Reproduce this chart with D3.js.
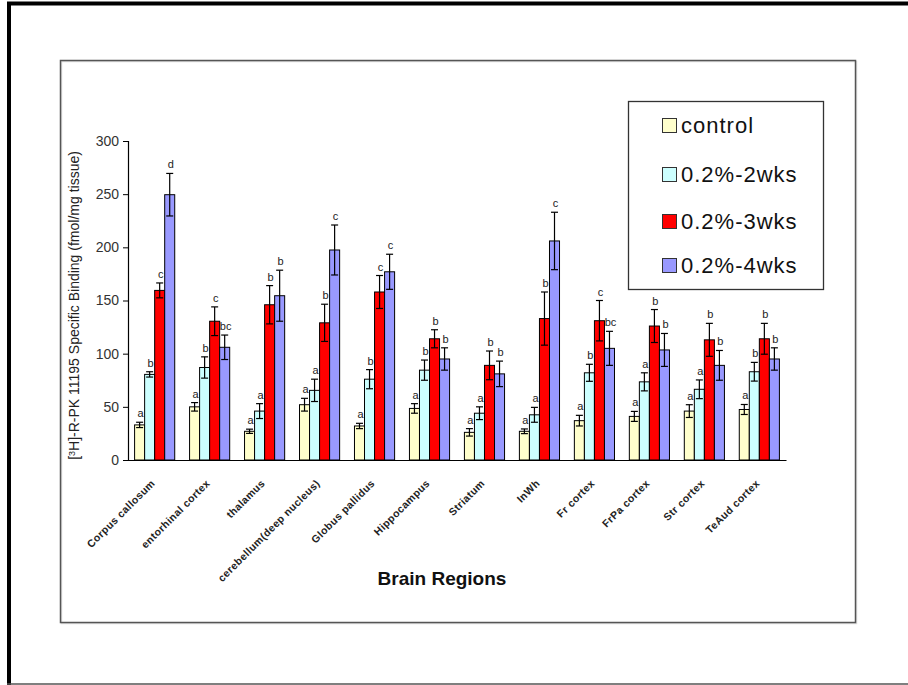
<!DOCTYPE html>
<html>
<head>
<meta charset="utf-8">
<script src="https://cdn.jsdelivr.net/npm/d3@7/dist/d3.min.js"></script>
<style>
  html, body { margin: 0; padding: 0; background: #fff; }
  svg { display: block; }
</style>
</head>
<body>
<svg id="chart" width="908" height="685"></svg>
<script>
const categories = ["Corpus callosum", "entorhinal cortex", "thalamus", "cerebellum(deep nucleus)",
  "Globus pallidus", "Hippocampus", "Striatum", "InWh", "Fr cortex", "FrPa cortex", "Str cortex", "TeAud cortex"];
const seriesNames = ["control", "0.2%-2wks", "0.2%-3wks", "0.2%-4wks"];
const seriesColors = ["#FFFFCC", "#CCFFFF", "#FF0000", "#9999FF"];

const controlValues = [33, 50, 27, 52, 32, 48.5, 26, 27, 37, 41, 46, 47.5];
const controlErrors = [2.5, 4, 2, 6, 2.5, 4.5, 3.5, 2.2, 5, 4.7, 6, 4.7];
const controlLetters = ["a", "a", "a", "a", "a", "a", "a", "a", "a", "a", "a", "a"];

const wk2Values = [80.5, 87, 46, 65.5, 76, 84.5, 44, 42.5, 82, 73.5, 66.5, 83];
const wk2Errors = [2.5, 10, 7, 10.5, 9, 9.5, 6, 7, 8, 8.5, 8.8, 8.8];
const wk2Letters = ["b", "b", "a", "a", "b", "b", "a", "a", "b", "a", "a", "b"];

const wk3Values = [159.5, 130.5, 146, 129, 158, 114, 89, 133, 131, 126, 113, 114];
const wk3Errors = [7, 13.5, 18, 17.5, 15.5, 8.5, 13.5, 25, 19, 15.5, 15.5, 14.5];
const wk3Letters = ["c", "c", "b", "b", "c", "b", "b", "b", "c", "b", "b", "b"];

const wk4Values = [249.5, 106, 154.5, 197.5, 177, 95, 81, 206, 105, 103.5, 89, 95];
const wk4Errors = [20, 11.5, 24, 23.5, 16.5, 10.5, 12, 27, 16, 15.5, 14, 10.5];
const wk4Letters = ["d", "bc", "b", "c", "c", "b", "b", "c", "bc", "b", "b", "b"];

const yTicks = [0, 50, 100, 150, 200, 250, 300];

const values = [controlValues, wk2Values, wk3Values, wk4Values];
const errors = [controlErrors, wk2Errors, wk3Errors, wk4Errors];
const letters = [controlLetters, wk2Letters, wk3Letters, wk4Letters];

const rows = [];
categories.forEach((c, i) => {
  seriesNames.forEach((s, j) => {
    rows.push({cat: c, series: s, si: j, v: values[j][i], e: errors[j][i], l: letters[j][i]});
  });
});

const svg = d3.select("#chart");
const font = "Arial, 'Liberation Sans', Helvetica, sans-serif";

// outer frame
svg.append("line").attr("x1", 7).attr("x2", 908).attr("y1", 3.5).attr("y2", 3.5)
  .attr("stroke", "#000").attr("stroke-width", 4);
svg.append("line").attr("x1", 9).attr("x2", 9).attr("y1", 2).attr("y2", 685)
  .attr("stroke", "#000").attr("stroke-width", 4);
svg.append("line").attr("x1", 7).attr("x2", 908).attr("y1", 684).attr("y2", 684)
  .attr("stroke", "#555").attr("stroke-width", 1.5);

// inner frame
svg.append("rect").attr("x", 61.5).attr("y", 61.5).attr("width", 795).attr("height", 562)
  .attr("fill", "none").attr("stroke", "#ddd").attr("stroke-width", 1.5);
svg.append("rect").attr("x", 60.5).attr("y", 60.5).attr("width", 795).attr("height", 562)
  .attr("fill", "none").attr("stroke", "#555").attr("stroke-width", 1.5);

const x0 = 128, x1 = 786, yTop = 141, yBot = 460;

const x = d3.scaleBand().domain(categories).range([x0, x1]).paddingInner(0.27).paddingOuter(0.12);
const xs = d3.scaleBand().domain(seriesNames).range([0, x.bandwidth()]).padding(0);
const y = d3.scaleLinear().domain([0, 300]).range([yBot, yTop]);

// y axis
const yAxis = d3.axisLeft(y).tickValues(yTicks).tickSize(5).tickPadding(4);
const gy = svg.append("g").attr("transform", `translate(${x0},0)`).call(yAxis);
gy.select(".domain").attr("stroke", "#000").attr("stroke-width", 1.2);
gy.selectAll(".tick line").attr("stroke", "#000");
gy.selectAll(".tick text").attr("font-family", font).attr("font-size", 14).attr("fill", "#333");

// x axis line
const xAxis = d3.axisBottom(x).tickSize(0).tickFormat("");
const gx = svg.append("g").attr("transform", `translate(0,${yBot})`).call(xAxis);
gx.select(".domain").attr("stroke", "#000").attr("stroke-width", 1.2);

// bars
const g = svg.append("g");
const groups = g.selectAll("g.bar").data(rows).join("g")
  .attr("transform", d => `translate(${x(d.cat) + xs(d.series)},0)`);

groups.append("rect")
  .attr("x", 0).attr("width", xs.bandwidth())
  .attr("y", d => y(d.v)).attr("height", d => y(0) - y(d.v))
  .attr("fill", d => seriesColors[d.si]).attr("stroke", "#000").attr("stroke-width", 1);

const bw = xs.bandwidth();
groups.append("line")
  .attr("x1", bw / 2).attr("x2", bw / 2)
  .attr("y1", d => y(d.v + d.e)).attr("y2", d => y(d.v - d.e))
  .attr("stroke", "#000").attr("stroke-width", 1.2);
groups.append("line")
  .attr("x1", bw / 2 - 3.5).attr("x2", bw / 2 + 3.5)
  .attr("y1", d => y(d.v + d.e)).attr("y2", d => y(d.v + d.e))
  .attr("stroke", "#000").attr("stroke-width", 1.2);
groups.append("line")
  .attr("x1", bw / 2 - 3.5).attr("x2", bw / 2 + 3.5)
  .attr("y1", d => y(d.v - d.e)).attr("y2", d => y(d.v - d.e))
  .attr("stroke", "#000").attr("stroke-width", 1.2);

groups.append("text")
  .attr("x", bw / 2 + 1).attr("y", d => y(d.v + d.e) - 5)
  .attr("text-anchor", "middle")
  .attr("font-family", font).attr("font-size", 11).attr("fill", "#222")
  .text(d => d.l);

// x labels
svg.append("g").selectAll("text").data(categories).join("text")
  .attr("transform", d => `translate(${x(d) + x.bandwidth() / 2 + 1},${yBot + 24}) rotate(-45)`)
  .attr("text-anchor", "end")
  .attr("font-family", font).attr("font-size", 10.5).attr("font-weight", "bold").attr("fill", "#222")
  .attr("letter-spacing", 0.4)
  .text(d => d);

// x title
svg.append("text").attr("x", 442).attr("y", 585).attr("text-anchor", "middle")
  .attr("font-family", font).attr("font-size", 19).attr("font-weight", "bold").attr("fill", "#111")
  .text("Brain Regions");

// y title
const yt = svg.append("text")
  .attr("transform", `translate(79,${(yTop + yBot) / 2 + 5}) rotate(-90)`)
  .attr("text-anchor", "middle")
  .attr("font-family", font).attr("font-size", 14).attr("fill", "#222");
yt.append("tspan").text("[");
yt.append("tspan").attr("font-size", 9).attr("dy", -4).text("3");
yt.append("tspan").attr("dy", 4).text("H]-R-PK 11195 Specific Binding (fmol/mg tissue)");

// legend
const lg = svg.append("g");
lg.append("rect").attr("x", 628.5).attr("y", 101.5).attr("width", 195).attr("height", 188)
  .attr("fill", "#fff").attr("stroke", "#333").attr("stroke-width", 1.3);
const legendY = [125, 174, 221, 265];
const items = lg.selectAll("g.item").data(seriesNames).join("g")
  .attr("transform", (d, i) => `translate(662,${legendY[i]})`);
items.append("rect").attr("x", 0.5).attr("y", -6.5).attr("width", 14).attr("height", 14)
  .attr("fill", (d, i) => seriesColors[i]).attr("stroke", "#333").attr("stroke-width", 1);
items.append("text").attr("x", 19).attr("y", 8)
  .attr("font-family", font).attr("font-size", 22).attr("fill", "#111")
  .attr("letter-spacing", 1)
  .text(d => d);
</script>
</body>
</html>
